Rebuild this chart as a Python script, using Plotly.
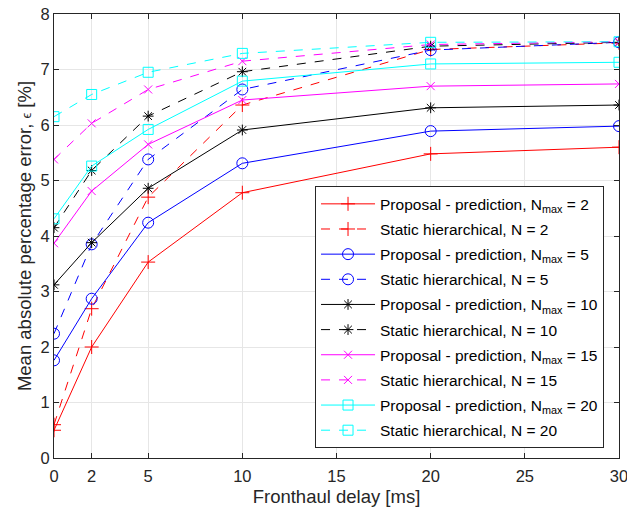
import plotly.graph_objects as go

delay = [0, 2, 5, 10, 20, 30]

prop_2 = [0.50, 2.00, 3.53, 4.78, 5.48, 5.60]
stat_2 = [0.60, 2.69, 4.70, 6.36, 7.36, 7.48]
prop_5 = [1.76, 2.87, 4.24, 5.31, 5.89, 5.98]
stat_5 = [2.24, 3.85, 5.38, 6.64, 7.35, 7.49]
prop_10 = [3.12, 3.88, 4.86, 5.91, 6.31, 6.36]
stat_10 = [4.15, 5.18, 6.16, 6.96, 7.42, 7.49]
prop_15 = [3.87, 4.81, 5.65, 6.45, 6.70, 6.74]
stat_15 = [5.38, 6.03, 6.64, 7.15, 7.45, 7.50]
prop_20 = [4.31, 5.26, 5.92, 6.79, 7.10, 7.13]
stat_20 = [6.15, 6.55, 6.95, 7.29, 7.49, 7.50]

x_ticks = [0, 2, 5, 10, 15, 20, 25, 30]
y_ticks = [0, 1, 2, 3, 4, 5, 6, 7, 8]

series = [
    ("Proposal - prediction, N<sub>max</sub> = 2", prop_2, "#FF0000", "solid", "cross-thin-open", 10),
    ("Static hierarchical, N = 2", stat_2, "#FF0000", "dash", "cross-thin-open", 10),
    ("Proposal - prediction, N<sub>max</sub> = 5", prop_5, "#0000FF", "solid", "circle-open", 11),
    ("Static hierarchical, N = 5", stat_5, "#0000FF", "dash", "circle-open", 11),
    ("Proposal - prediction, N<sub>max</sub> = 10", prop_10, "#000000", "solid", "asterisk-open", 9),
    ("Static hierarchical, N = 10", stat_10, "#000000", "dash", "asterisk-open", 9),
    ("Proposal - prediction, N<sub>max</sub> = 15", prop_15, "#FF00FF", "solid", "x-thin-open", 8),
    ("Static hierarchical, N = 15", stat_15, "#FF00FF", "dash", "x-thin-open", 8),
    ("Proposal - prediction, N<sub>max</sub> = 20", prop_20, "#00FFFF", "solid", "square-open", 10),
    ("Static hierarchical, N = 20", stat_20, "#00FFFF", "dash", "square-open", 10),
]

fig = go.Figure()
for i, (name, vals, color, dash, sym, size) in enumerate(series):
    fig.add_trace(go.Scatter(
        x=delay, y=vals, name=name, mode="lines+markers", legendgroup=f"g{i}",
        line=dict(color=color, width=1, dash=dash),
        marker=dict(symbol=sym, size=size, color=color, line=dict(color=color, width=1)),
    ))

font_family = "Liberation Sans, Arial, sans-serif"
fig.update_layout(
    width=627, height=518,
    margin=dict(l=54, r=8, t=14, b=60),
    paper_bgcolor="white", plot_bgcolor="white",
    font=dict(family=font_family, size=16.5, color="#262626"),
    showlegend=True,
    legend=dict(
        x=0.462, y=0.612, xanchor="left", yanchor="top",
        bordercolor="#262626", borderwidth=1, bgcolor="white",
        font=dict(family=font_family, size=15.5, color="#000000"),
        itemwidth=54, tracegroupgap=2,
    ),
)
fig.update_xaxes(
    range=[0, 30], tickvals=x_ticks, ticks="inside", ticklen=5, tickcolor="#262626",
    showgrid=True, gridcolor="#E6E6E6", gridwidth=1,
    showline=True, linecolor="#262626", linewidth=1, mirror="ticks",
    zeroline=False, automargin=False, ticklabeloverflow="allow", ticklabelstandoff=3,
    title=dict(text="Fronthaul delay [ms]", font=dict(size=18.5), standoff=6),
)
fig.update_yaxes(
    range=[0, 8], tickvals=y_ticks, ticks="inside", ticklen=5, tickcolor="#262626",
    showgrid=True, gridcolor="#E6E6E6", gridwidth=1,
    showline=True, linecolor="#262626", linewidth=1, mirror="ticks",
    zeroline=False, automargin=False, ticklabeloverflow="allow",
    title=dict(text="Mean absolute percentage error, <span style='font-size:13px'>ϵ</span> [%]",
               font=dict(size=18.5), standoff=4),
)

fig.write_html("out.html", config={"displayModeBar": False},
               post_script="document.body.style.margin='0';")
